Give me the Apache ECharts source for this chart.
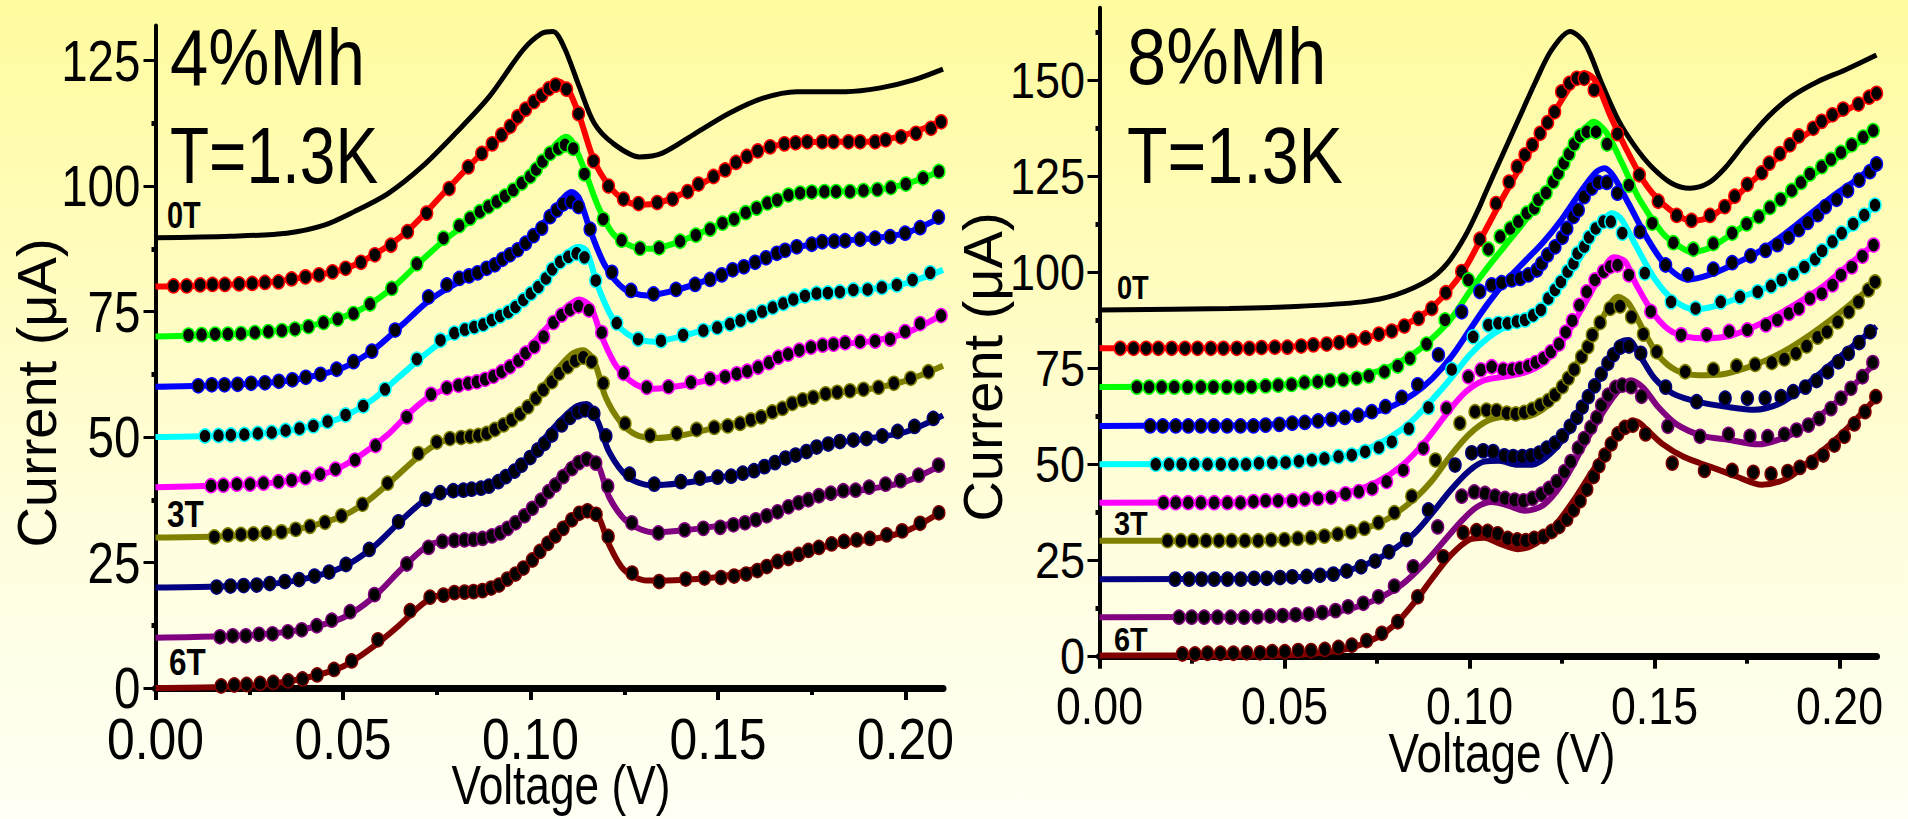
<!DOCTYPE html>
<html>
<head>
<meta charset="utf-8">
<title>Current vs Voltage, 4% and 8% Mn</title>
<script src="https://cdn.jsdelivr.net/npm/echarts@6/dist/echarts.min.js"></script>
<style>
  html, body { margin: 0; padding: 0; }
  #chart {
    width: 1908px;
    height: 819px;
    background: linear-gradient(to bottom, #fffb9e 0%, #fffcc0 35%, #fffede 65%, #fffff4 100%);
  }
</style>
</head>
<body>
<div id="chart"></div>
<script>
// ---- shared ----
const curveColors = ['#ff0000', '#00ff00', '#0000ff', '#00ffff', '#ff00ff', '#808000', '#000080', '#800080', '#800000'];
const xTicks = [0, 0.05, 0.10, 0.15, 0.20];
const xMinorTicks = [0.025, 0.075, 0.125, 0.175];
const yTicksLeft = [0, 25, 50, 75, 100, 125];
const yMinorLeft = [12.5, 37.5, 62.5, 87.5, 112.5];
const yTicksRight = [0, 25, 50, 75, 100, 125, 150];
const yMinorRight = [12.5, 37.5, 62.5, 87.5, 112.5, 137.5, 162.5];

// ---- 4% Mn panel: fitted curves [V, uA] ----
const fit4_90 = [[0,89.7],[0.02,90.0],[0.035,90.6],[0.045,92.2],[0.053,94.9],[0.062,98.5],[0.071,103.8],[0.080,110.5],[0.089,117.8],[0.098,127.1],[0.103,130.4],[0.106,130.8],[0.109,127.6],[0.113,119.8],[0.117,112.5],[0.122,108.5],[0.129,105.8],[0.135,106.5],[0.144,110.5],[0.153,114.5],[0.162,117.5],[0.171,118.8],[0.184,118.8],[0.193,119.5],[0.202,121.1],[0.21,123.3]];
const fit4_80 = [[0,80],[0.015,80.2],[0.03,80.8],[0.04,81.9],[0.05,83.4],[0.058,86.2],[0.067,90.9],[0.078,99.5],[0.087,106.5],[0.095,111.5],[0.101,116.8],[0.105,119.8],[0.1075,120.8],[0.110,119.3],[0.113,114],[0.117,105],[0.121,100],[0.125,97.2],[0.129,96.3],[0.134,96.6],[0.142,99],[0.152,103.2],[0.161,107],[0.17,108.6],[0.18,108.8],[0.19,108.8],[0.198,109.8],[0.205,111.5],[0.21,113.2]];
const fit4_70 = [[0,70],[0.01,70.2],[0.03,71],[0.045,72.8],[0.055,75.5],[0.063,79.6],[0.07,84.5],[0.077,89.2],[0.083,92.5],[0.09,96.3],[0.097,100.3],[0.103,104.8],[0.107,108.5],[0.1095,109.8],[0.111,109],[0.114,104],[0.118,96],[0.122,90.5],[0.127,88],[0.132,87.5],[0.14,89],[0.15,92.2],[0.16,95.5],[0.17,98.3],[0.18,98.9],[0.19,99.1],[0.2,100.4],[0.21,103.2]];
const fit4_60 = [[0,60],[0.012,60.2],[0.03,60.8],[0.04,61.8],[0.05,63.8],[0.058,67.3],[0.066,72.5],[0.073,77.2],[0.08,80.5],[0.088,83.3],[0.095,86.5],[0.1,89.6],[0.105,94],[0.109,97.8],[0.111,98.8],[0.113,97.5],[0.116,91],[0.12,84],[0.125,79.5],[0.131,78.2],[0.139,79.3],[0.15,82],[0.16,84.8],[0.17,87.6],[0.18,88.9],[0.19,89.5],[0.2,90.6],[0.21,94]];
const fit4_50 = [[0,50],[0.013,50.2],[0.03,50.8],[0.042,52.2],[0.05,54],[0.058,57.5],[0.065,62],[0.072,66.5],[0.078,69.8],[0.085,72],[0.092,74.2],[0.098,77],[0.104,81.8],[0.109,86.2],[0.113,87.9],[0.115,87],[0.118,80],[0.122,73.5],[0.127,70],[0.133,69],[0.14,70],[0.15,72.2],[0.16,74.4],[0.17,76.8],[0.18,78.8],[0.19,79.4],[0.2,80.6],[0.21,83.3]];
const fit4_40 = [[0,40],[0.015,40.3],[0.03,40.8],[0.04,41.8],[0.048,43.5],[0.055,46.5],[0.062,50.5],[0.068,55],[0.073,58],[0.078,59.7],[0.085,61],[0.092,63],[0.098,66.5],[0.104,71.5],[0.109,75.5],[0.113,77.4],[0.116,76],[0.119,70],[0.123,64],[0.128,60.5],[0.133,59.6],[0.14,60.2],[0.15,61.8],[0.16,63.6],[0.17,66.8],[0.18,68.4],[0.19,69],[0.2,70.7],[0.21,74.5]];
const fit4_30 = [[0,30],[0.016,30.2],[0.03,30.8],[0.04,32],[0.05,34.3],[0.057,37.5],[0.064,42],[0.07,46],[0.076,49],[0.082,50],[0.088,50.7],[0.094,53],[0.1,57],[0.106,62.5],[0.111,66.5],[0.114,67.3],[0.117,65],[0.12,58],[0.124,53],[0.128,50.5],[0.133,49.8],[0.14,50.3],[0.15,52],[0.16,53.8],[0.17,56.9],[0.18,58.6],[0.19,59.5],[0.2,61.2],[0.21,64.2]];
const fit4_20 = [[0,20],[0.016,20.2],[0.03,20.7],[0.04,21.8],[0.05,24.1],[0.058,28],[0.065,33],[0.072,37.5],[0.078,39.2],[0.085,39.9],[0.09,40.6],[0.096,43.2],[0.102,48.2],[0.107,52.5],[0.112,56],[0.115,56.6],[0.118,53],[0.121,47],[0.126,42],[0.132,40.4],[0.14,40.8],[0.15,41.9],[0.16,43.4],[0.17,46.2],[0.18,48.6],[0.19,49.7],[0.2,51],[0.21,54.3]];
const fit4_10 = [[0,10],[0.017,10.3],[0.03,10.8],[0.04,11.8],[0.05,14],[0.058,18],[0.066,24],[0.073,28.5],[0.08,29.6],[0.087,30.2],[0.093,31.5],[0.1,35.3],[0.106,40.5],[0.111,44.5],[0.115,46.3],[0.118,44.5],[0.121,38],[0.126,33],[0.133,31],[0.142,31.5],[0.15,32.3],[0.16,33.6],[0.17,36.2],[0.18,38.6],[0.19,39.6],[0.2,41.1],[0.21,44.6]];
const fit4_0 = [[0,0],[0.017,0.2],[0.03,0.8],[0.04,2],[0.05,4.3],[0.058,8.2],[0.065,12.5],[0.072,17.2],[0.078,19],[0.085,19.4],[0.092,20.8],[0.1,24.8],[0.106,30],[0.111,34],[0.115,36],[0.118,34.3],[0.121,28.5],[0.125,23.5],[0.131,21.4],[0.14,21.5],[0.15,22.1],[0.16,23.8],[0.17,26.6],[0.18,28.4],[0.19,29.5],[0.2,31.2],[0.21,35.3]];

// ---- 4% Mn panel: measured points [V, uA] ----
const dots4_80 = [[0.0048,80.1],[0.0083,80.1],[0.0119,80.3],[0.0152,80.4],[0.0185,80.4],[0.0223,80.5],[0.0258,80.6],[0.0292,80.8],[0.0328,80.9],[0.0363,81.5],[0.0400,81.9],[0.0436,82.3],[0.0472,82.9],[0.0507,83.6],[0.0548,84.8],[0.0585,86.3],[0.0628,88.2],[0.0672,90.9],[0.0723,94.6],[0.0783,99.5],[0.0834,103.8],[0.0870,106.5],[0.0898,108.4],[0.0923,110.2],[0.0946,111.9],[0.0966,113.8],[0.0987,115.3],[0.1009,116.8],[0.1030,118.1],[0.1049,119.4],[0.1067,120.1],[0.1096,119.3],[0.1128,114.4],[0.1168,105.0],[0.1208,100.0],[0.1248,97.4],[0.1288,96.5],[0.1338,96.7],[0.1379,97.4],[0.1419,98.9],[0.1448,100.4],[0.1488,101.9],[0.1519,103.2],[0.1548,104.7],[0.1577,105.9],[0.1606,107.0],[0.1639,107.8],[0.1677,108.4],[0.1707,108.6],[0.1738,108.8],[0.1778,108.8],[0.1808,108.8],[0.1848,108.8],[0.1879,108.8],[0.1919,108.8],[0.1947,109.2],[0.1988,109.8],[0.2028,110.5],[0.2068,111.5],[0.2095,112.8]];
const dots4_70 = [[0.0088,70.3],[0.0123,70.4],[0.0159,70.5],[0.0193,70.5],[0.0228,70.6],[0.0265,70.8],[0.0301,71.0],[0.0337,71.2],[0.0372,71.5],[0.0408,72.0],[0.0448,72.8],[0.0486,73.5],[0.0528,74.6],[0.0572,76.5],[0.0630,79.6],[0.0697,84.5],[0.0768,89.6],[0.0810,92.1],[0.0839,93.6],[0.0865,94.9],[0.0888,95.9],[0.0910,96.9],[0.0932,98.0],[0.0954,99.2],[0.0977,100.6],[0.0999,101.9],[0.1015,103.3],[0.1032,104.9],[0.1052,106.5],[0.1074,107.5],[0.1092,108.2],[0.1114,107.5],[0.1144,102.4],[0.1194,93.4],[0.1243,89.2],[0.1292,87.6],[0.1343,87.7],[0.1399,89.0],[0.1441,90.2],[0.1479,91.4],[0.1512,92.6],[0.1543,93.4],[0.1574,94.7],[0.1603,95.6],[0.1632,96.6],[0.1658,97.2],[0.1688,98.2],[0.1719,98.6],[0.1750,98.8],[0.1784,98.9],[0.1815,98.9],[0.1852,98.9],[0.1888,99.1],[0.1925,99.3],[0.1961,99.7],[0.2001,100.4],[0.2047,101.6],[0.2089,102.9]];
const dots4_60 = [[0.0114,60.2],[0.0150,60.4],[0.0184,60.4],[0.0219,60.5],[0.0255,60.7],[0.0292,60.8],[0.0329,61.1],[0.0365,61.4],[0.0401,61.9],[0.0440,62.5],[0.0483,63.5],[0.0528,65.0],[0.0577,67.1],[0.0639,71.3],[0.0728,77.9],[0.0777,80.3],[0.0810,81.6],[0.0836,82.1],[0.0859,82.7],[0.0883,83.6],[0.0905,84.3],[0.0925,85.4],[0.0945,86.3],[0.0966,87.3],[0.0987,88.6],[0.1008,90.1],[0.1030,91.6],[0.1052,93.9],[0.1070,95.2],[0.1087,96.4],[0.1108,96.9],[0.1128,95.9],[0.1159,91.4],[0.1217,82.8],[0.1268,79.2],[0.1328,78.5],[0.1388,79.4],[0.1439,80.4],[0.1479,81.4],[0.1510,82.3],[0.1539,83.3],[0.1569,83.9],[0.1599,84.8],[0.1628,85.7],[0.1657,86.6],[0.1679,87.2],[0.1710,87.9],[0.1750,88.4],[0.1778,88.9],[0.1810,89.0],[0.1839,89.1],[0.1879,89.4],[0.1919,89.6],[0.1959,89.9],[0.1999,90.6],[0.2039,91.7],[0.2088,93.8]];
const dots4_50 = [[0.0132,50.2],[0.0168,50.3],[0.0201,50.4],[0.0237,50.5],[0.0273,50.7],[0.0310,50.9],[0.0347,51.3],[0.0384,51.7],[0.0421,52.2],[0.0459,53.1],[0.0507,54.4],[0.0554,56.2],[0.0612,59.5],[0.0697,65.5],[0.0760,69.3],[0.0797,70.7],[0.0825,71.4],[0.0850,71.9],[0.0874,72.4],[0.0897,73.3],[0.0919,74.1],[0.0941,74.9],[0.0960,75.9],[0.0981,77.3],[0.1001,78.6],[0.1021,79.9],[0.1041,81.6],[0.1058,83.4],[0.1079,84.9],[0.1101,85.9],[0.1123,86.6],[0.1144,85.8],[0.1174,81.2],[0.1230,72.7],[0.1287,69.5],[0.1348,69.2],[0.1407,70.3],[0.1461,71.2],[0.1498,71.8],[0.1532,72.5],[0.1560,73.2],[0.1590,74.1],[0.1618,75.0],[0.1646,75.8],[0.1674,76.6],[0.1701,77.4],[0.1732,78.1],[0.1763,78.6],[0.1793,78.7],[0.1825,78.9],[0.1861,79.3],[0.1899,79.4],[0.1937,79.8],[0.1977,80.3],[0.2019,81.3],[0.2066,82.7]];
const dots4_40 = [[0.0148,40.3],[0.0181,40.4],[0.0217,40.6],[0.0252,40.6],[0.0288,40.8],[0.0328,41.1],[0.0363,41.4],[0.0400,41.9],[0.0439,42.6],[0.0480,43.6],[0.0532,45.4],[0.0587,48.3],[0.0670,54.0],[0.0735,58.5],[0.0777,59.8],[0.0808,60.3],[0.0834,60.7],[0.0857,61.0],[0.0879,61.5],[0.0901,62.1],[0.0923,63.0],[0.0945,64.0],[0.0968,65.2],[0.0987,66.7],[0.1010,68.0],[0.1035,70.0],[0.1061,72.8],[0.1083,74.3],[0.1105,75.4],[0.1128,76.1],[0.1156,75.3],[0.1190,70.8],[0.1248,62.7],[0.1310,59.9],[0.1368,60.0],[0.1428,60.9],[0.1479,61.6],[0.1519,62.0],[0.1550,62.6],[0.1578,63.1],[0.1607,63.9],[0.1636,64.8],[0.1661,65.9],[0.1687,66.5],[0.1717,67.3],[0.1748,67.9],[0.1779,68.3],[0.1808,68.5],[0.1839,68.8],[0.1879,69.0],[0.1919,69.1],[0.1959,69.5],[0.1999,71.0],[0.2039,72.6],[0.2095,74.2]];
const dots4_30 = [[0.0157,30.1],[0.0193,30.5],[0.0228,30.6],[0.0261,30.7],[0.0296,30.9],[0.0336,31.1],[0.0374,31.6],[0.0412,32.2],[0.0452,33.0],[0.0496,34.3],[0.0552,36.6],[0.0619,40.8],[0.0701,46.7],[0.0750,49.0],[0.0785,49.7],[0.0815,49.9],[0.0839,50.1],[0.0861,50.3],[0.0883,50.7],[0.0905,51.5],[0.0928,52.4],[0.0950,53.4],[0.0972,54.6],[0.0993,56.0],[0.1014,57.7],[0.1034,59.4],[0.1057,61.0],[0.1076,62.7],[0.1099,64.0],[0.1119,65.2],[0.1141,65.9],[0.1163,65.0],[0.1194,60.7],[0.1252,52.7],[0.1319,50.3],[0.1390,50.7],[0.1443,51.5],[0.1490,51.9],[0.1526,52.2],[0.1559,52.7],[0.1588,53.4],[0.1615,54.0],[0.1645,55.0],[0.1672,55.7],[0.1698,56.7],[0.1726,57.4],[0.1754,57.9],[0.1787,58.6],[0.1818,58.9],[0.1852,59.2],[0.1888,59.5],[0.1928,59.9],[0.1969,60.7],[0.2014,61.7],[0.2061,63.0]];
const dots4_20 = [[0.0163,20.1],[0.0200,20.3],[0.0235,20.4],[0.0270,20.5],[0.0305,20.8],[0.0345,21.2],[0.0383,21.6],[0.0424,22.3],[0.0463,23.1],[0.0508,24.6],[0.0570,27.6],[0.0648,33.1],[0.0721,37.6],[0.0759,38.9],[0.0794,39.3],[0.0821,39.4],[0.0843,39.6],[0.0868,39.8],[0.0889,40.2],[0.0914,41.1],[0.0934,42.1],[0.0957,43.2],[0.0976,44.4],[0.0999,45.9],[0.1019,47.4],[0.1037,48.7],[0.1057,50.4],[0.1083,52.4],[0.1105,53.9],[0.1126,55.0],[0.1145,55.4],[0.1169,54.7],[0.1201,50.2],[0.1264,42.6],[0.1330,40.6],[0.1401,41.1],[0.1452,41.8],[0.1499,42.0],[0.1535,42.2],[0.1566,42.8],[0.1596,43.3],[0.1624,44.1],[0.1652,44.9],[0.1680,45.8],[0.1707,46.4],[0.1736,47.1],[0.1763,48.0],[0.1794,48.6],[0.1825,49.1],[0.1861,49.4],[0.1896,49.7],[0.1938,50.2],[0.1979,51.1],[0.2024,52.1],[0.2074,53.7]];
const dots4_10 = [[0.0172,10.2],[0.0206,10.4],[0.0241,10.4],[0.0276,10.7],[0.0312,10.8],[0.0353,11.2],[0.0390,11.6],[0.0430,12.4],[0.0470,13.5],[0.0519,15.2],[0.0584,18.6],[0.0670,24.7],[0.0728,28.0],[0.0765,29.2],[0.0797,29.4],[0.0824,29.5],[0.0848,29.6],[0.0872,29.8],[0.0897,30.3],[0.0919,30.9],[0.0939,31.8],[0.0960,32.9],[0.0984,34.3],[0.1005,35.8],[0.1028,37.4],[0.1048,39.1],[0.1066,40.4],[0.1087,42.1],[0.1110,43.7],[0.1129,44.9],[0.1150,45.6],[0.1174,44.8],[0.1206,40.2],[0.1270,32.9],[0.1341,30.9],[0.1411,31.5],[0.1461,31.8],[0.1506,32.0],[0.1541,32.5],[0.1572,32.9],[0.1601,33.5],[0.1630,34.3],[0.1659,35.1],[0.1688,36.1],[0.1715,36.9],[0.1741,37.5],[0.1769,38.3],[0.1801,38.8],[0.1834,39.3],[0.1867,39.4],[0.1903,40.0],[0.1947,40.6],[0.1987,41.3],[0.2035,42.4],[0.2088,44.4]];
const dots4_0 = [[0.0175,0.4],[0.0210,0.6],[0.0243,0.7],[0.0279,0.9],[0.0314,1.1],[0.0354,1.4],[0.0392,1.8],[0.0431,2.6],[0.0476,3.7],[0.0523,5.4],[0.0593,9.6],[0.0679,15.4],[0.0732,18.1],[0.0768,18.5],[0.0797,19.0],[0.0824,19.1],[0.0848,19.2],[0.0872,19.4],[0.0895,19.9],[0.0916,20.5],[0.0938,21.7],[0.0960,22.7],[0.0981,23.9],[0.1005,25.5],[0.1025,27.2],[0.1046,28.8],[0.1066,30.3],[0.1087,31.8],[0.1110,33.5],[0.1130,34.8],[0.1152,35.3],[0.1175,34.6],[0.1207,30.2],[0.1271,22.9],[0.1343,21.2],[0.1414,21.7],[0.1464,21.9],[0.1508,22.0],[0.1543,22.3],[0.1575,22.7],[0.1605,23.4],[0.1630,24.2],[0.1659,25.2],[0.1688,25.8],[0.1715,26.6],[0.1741,27.4],[0.1769,28.0],[0.1803,28.7],[0.1836,29.2],[0.1870,29.5],[0.1905,29.8],[0.1950,30.5],[0.1991,31.3],[0.2039,32.8],[0.2089,34.9]];

// ---- 8% Mn panel: fitted curves [V, uA] ----
const fit8_90 = [[0,90.3],[0.035,90.7],[0.053,91.2],[0.071,92.4],[0.080,94.2],[0.089,98.1],[0.094,102.4],[0.0988,109.5],[0.1024,116.5],[0.1042,120.5],[0.1087,130.2],[0.1132,139.8],[0.1177,149.4],[0.1222,158.0],[0.1272,162.8],[0.1312,159.7],[0.1357,149.4],[0.1402,139.8],[0.1447,132.9],[0.1492,127.6],[0.1546,123.3],[0.1596,122.0],[0.1645,123.3],[0.1690,127.2],[0.1744,133.7],[0.1808,140.7],[0.1871,145.9],[0.1942,149.8],[0.2015,152.8],[0.21,156.7]];
const fit8_80 = [[0,80.3],[0.04,80.4],[0.05,80.7],[0.06,81.2],[0.068,82.2],[0.075,83.8],[0.082,86.2],[0.088,89.5],[0.094,95],[0.099,101.5],[0.104,110.5],[0.109,119.5],[0.114,128],[0.119,136],[0.124,143.5],[0.128,149.5],[0.131,152],[0.134,150],[0.138,141],[0.143,131],[0.148,122.5],[0.154,116.5],[0.16,113.5],[0.165,114.5],[0.17,118],[0.175,122.5],[0.18,127],[0.188,134],[0.195,138.5],[0.2,141.3],[0.21,146.7]];
const fit8_70 = [[0,70.2],[0.04,70.4],[0.05,70.8],[0.06,71.6],[0.07,73],[0.078,75.3],[0.085,79],[0.09,83],[0.095,88],[0.1,95],[0.105,101.5],[0.11,107.5],[0.115,113.5],[0.12,120.5],[0.125,128],[0.13,136],[0.1335,139.3],[0.137,136.5],[0.141,129],[0.146,119],[0.152,110.5],[0.155,108],[0.16,105.4],[0.165,106.5],[0.17,109.5],[0.175,112.8],[0.18,116],[0.188,122],[0.195,127],[0.2,130.3],[0.21,137.2]];
const fit8_60 = [[0,60.1],[0.04,60.3],[0.05,60.7],[0.06,61.5],[0.07,62.8],[0.078,64.8],[0.085,68.5],[0.09,72.5],[0.095,78],[0.1,85],[0.105,92],[0.11,98],[0.115,103],[0.12,108],[0.125,114],[0.13,121],[0.134,126],[0.1365,127.2],[0.139,125],[0.143,118],[0.148,109],[0.153,102],[0.159,98.2],[0.165,99.5],[0.171,102],[0.177,104.8],[0.182,107.8],[0.188,112.2],[0.195,117.5],[0.2,121.2],[0.205,124.5],[0.21,128.8]];
const fit8_50 = [[0,50.1],[0.045,50.3],[0.055,50.8],[0.065,52],[0.072,54],[0.078,56.8],[0.084,61],[0.09,67],[0.095,72.5],[0.1,78.5],[0.105,83],[0.11,86],[0.115,88],[0.12,91.5],[0.125,97],[0.13,104],[0.135,112],[0.1385,115.5],[0.141,114],[0.145,107],[0.15,98.5],[0.155,93],[0.161,90.4],[0.167,91.5],[0.173,93.5],[0.18,96],[0.186,99],[0.193,104],[0.2,109.5],[0.205,113],[0.21,118.2]];
const fit8_40 = [[0,40.1],[0.04,40.3],[0.05,40.7],[0.06,41.5],[0.068,43],[0.075,45.5],[0.082,50],[0.088,56],[0.094,63.5],[0.099,69],[0.104,72],[0.11,73],[0.115,74],[0.12,76.5],[0.125,82],[0.13,90],[0.135,98.5],[0.139,104],[0.142,103],[0.145,97],[0.15,89],[0.155,84.5],[0.1635,82.9],[0.17,83.5],[0.177,86],[0.185,90],[0.195,96],[0.2,100],[0.21,108]];
const fit8_30 = [[0,30.2],[0.045,30.3],[0.055,30.8],[0.065,32],[0.072,33.5],[0.078,36],[0.085,41],[0.09,46],[0.095,52.5],[0.1,58],[0.105,61.5],[0.11,62.5],[0.115,62.5],[0.12,64.5],[0.125,70],[0.13,78],[0.135,86.5],[0.1402,93.7],[0.143,92],[0.147,85],[0.151,78.5],[0.156,74.5],[0.162,73.3],[0.168,73.5],[0.175,75.3],[0.182,78],[0.19,82.5],[0.2,89.5],[0.21,97.5]];
const fit8_20 = [[0,20.2],[0.045,20.3],[0.055,20.8],[0.065,22],[0.072,24],[0.078,27],[0.085,32],[0.09,37.5],[0.095,43.5],[0.1,48.5],[0.104,50.8],[0.108,51],[0.113,50],[0.117,50],[0.122,53],[0.127,59],[0.132,67],[0.137,76],[0.141,82],[0.143,82.5],[0.146,78.5],[0.15,72.5],[0.155,68.5],[0.162,66.3],[0.17,65],[0.177,64.3],[0.184,66],[0.19,70],[0.2,78],[0.21,86]];
const fit8_10 = [[0,10.3],[0.05,10.4],[0.06,11],[0.068,12.5],[0.075,15],[0.082,19],[0.088,24.5],[0.093,30],[0.098,35.5],[0.102,39],[0.106,40.3],[0.11,39.5],[0.115,38],[0.12,39.5],[0.125,45],[0.13,53.5],[0.135,62],[0.14,69],[0.1435,72],[0.147,70],[0.151,65],[0.156,60.5],[0.163,57.5],[0.17,56.5],[0.178,55.3],[0.185,57],[0.19,59.5],[0.2,67],[0.21,77]];
const fit8_0 = [[0,0.3],[0.05,0.4],[0.06,1],[0.068,2.3],[0.075,5],[0.08,8.5],[0.085,14],[0.09,20.5],[0.095,26.5],[0.1,30.5],[0.104,31],[0.108,29.5],[0.113,28],[0.118,29.5],[0.123,34],[0.128,40.5],[0.133,48],[0.138,55],[0.142,60],[0.145,61.3],[0.148,59],[0.152,55.5],[0.158,52],[0.165,49.5],[0.172,47],[0.179,44.8],[0.186,46.5],[0.192,51],[0.2,57.5],[0.21,67.5]];

// ---- 8% Mn panel: measured points [V, uA] ----
const dots8_80 = [[0.0056,80.3],[0.0092,80.3],[0.0126,80.3],[0.0159,80.3],[0.0195,80.3],[0.0231,80.3],[0.0265,80.3],[0.0301,80.3],[0.0335,80.3],[0.0371,80.3],[0.0405,80.3],[0.0438,80.5],[0.0474,80.6],[0.0508,80.6],[0.0545,80.9],[0.0578,81.2],[0.0614,81.4],[0.0648,81.8],[0.0682,82.3],[0.0719,83.0],[0.0755,84.0],[0.0790,84.8],[0.0824,86.1],[0.0862,88.1],[0.0898,90.7],[0.0936,94.8],[0.0979,100.3],[0.1028,108.7],[0.1072,118.0],[0.1107,123.6],[0.1129,127.6],[0.1150,130.7],[0.1170,133.3],[0.1191,136.3],[0.1211,139.1],[0.1230,141.9],[0.1249,147.1],[0.1270,149.3],[0.1290,150.6],[0.1310,150.6],[0.1337,147.6],[0.1400,136.2],[0.1459,125.5],[0.1510,118.6],[0.1560,114.9],[0.1600,113.6],[0.1650,114.9],[0.1690,117.2],[0.1717,119.9],[0.1751,123.0],[0.1790,126.0],[0.1810,128.5],[0.1839,131.0],[0.1866,133.3],[0.1890,135.6],[0.1929,137.6],[0.1952,139.4],[0.1981,141.1],[0.2010,142.6],[0.2051,143.9],[0.2080,145.7],[0.2100,146.7]];
const dots8_70 = [[0.0101,70.2],[0.0134,70.2],[0.0168,70.2],[0.0202,70.2],[0.0238,70.2],[0.0274,70.2],[0.0308,70.2],[0.0344,70.2],[0.0378,70.2],[0.0411,70.3],[0.0449,70.5],[0.0483,70.7],[0.0519,70.9],[0.0554,71.4],[0.0590,71.6],[0.0623,71.9],[0.0659,72.1],[0.0695,72.5],[0.0728,73.1],[0.0770,74.2],[0.0806,75.7],[0.0839,77.7],[0.0884,81.4],[0.0934,87.7],[0.0997,98.1],[0.1051,106.1],[0.1083,109.4],[0.1110,111.5],[0.1132,113.3],[0.1155,115.5],[0.1175,116.8],[0.1186,119.0],[0.1207,120.8],[0.1226,123.7],[0.1240,125.9],[0.1255,128.5],[0.1269,130.9],[0.1283,133.5],[0.1299,135.6],[0.1317,136.7],[0.1342,136.7],[0.1372,133.5],[0.1431,122.8],[0.1494,112.9],[0.1551,107.8],[0.1605,106.1],[0.1659,107.6],[0.1710,110.3],[0.1749,112.7],[0.1782,114.6],[0.1812,117.0],[0.1841,119.1],[0.1871,121.4],[0.1896,123.5],[0.1920,125.7],[0.1952,127.6],[0.1977,129.5],[0.2004,131.3],[0.2033,133.3],[0.2064,135.3],[0.2091,137.0]];
const dots8_60 = [[0.0137,60.1],[0.0171,60.1],[0.0206,60.1],[0.0240,60.1],[0.0274,60.1],[0.0309,60.1],[0.0345,60.1],[0.0381,60.1],[0.0416,60.1],[0.0449,60.3],[0.0486,60.5],[0.0521,60.8],[0.0555,61.0],[0.0591,61.4],[0.0627,61.8],[0.0663,62.3],[0.0699,62.9],[0.0736,63.8],[0.0773,65.1],[0.0817,67.5],[0.0860,70.8],[0.0916,78.6],[0.0979,89.8],[0.1028,95.1],[0.1060,96.8],[0.1087,97.4],[0.1114,98.1],[0.1137,98.5],[0.1159,99.4],[0.1182,100.7],[0.1195,102.4],[0.1211,104.6],[0.1231,106.7],[0.1251,109.2],[0.1263,111.5],[0.1281,114.6],[0.1294,116.3],[0.1310,119.8],[0.1330,122.0],[0.1348,123.5],[0.1371,123.5],[0.1400,120.7],[0.1461,110.7],[0.1530,102.0],[0.1590,99.4],[0.1659,100.9],[0.1710,102.6],[0.1760,104.4],[0.1800,105.8],[0.1832,107.3],[0.1862,109.2],[0.1890,111.2],[0.1914,113.1],[0.1941,115.1],[0.1962,117.2],[0.1992,119.1],[0.2022,121.4],[0.2053,124.1],[0.2082,126.3],[0.2100,128.3]];
const dots8_50 = [[0.0152,50.1],[0.0188,50.1],[0.0222,50.1],[0.0256,50.1],[0.0292,50.1],[0.0328,50.1],[0.0362,50.1],[0.0396,50.1],[0.0431,50.4],[0.0467,50.5],[0.0503,50.6],[0.0539,50.9],[0.0574,51.2],[0.0608,51.6],[0.0646,52.1],[0.0682,52.5],[0.0718,53.4],[0.0755,54.5],[0.0790,56.0],[0.0836,59.4],[0.0889,64.9],[0.0952,74.8],[0.1010,83.3],[0.1051,86.4],[0.1078,86.8],[0.1103,86.8],[0.1128,87.3],[0.1150,87.7],[0.1172,88.9],[0.1193,90.3],[0.1213,93.3],[0.1231,95.5],[0.1247,97.6],[0.1265,100.3],[0.1281,102.4],[0.1292,105.0],[0.1310,106.8],[0.1323,109.2],[0.1341,111.5],[0.1362,113.3],[0.1382,113.3],[0.1413,110.3],[0.1474,99.9],[0.1545,92.4],[0.1611,90.7],[0.1679,92.4],[0.1731,93.7],[0.1779,95.0],[0.1815,96.5],[0.1844,98.1],[0.1875,99.6],[0.1905,101.5],[0.1934,103.5],[0.1953,105.7],[0.1981,108.1],[0.2006,110.3],[0.2037,112.7],[0.2067,115.0],[0.2096,117.6]];
const dots8_40 = [[0.0173,40.1],[0.0206,40.1],[0.0240,40.1],[0.0274,40.1],[0.0310,40.1],[0.0346,40.1],[0.0381,40.1],[0.0416,40.4],[0.0449,40.6],[0.0483,40.6],[0.0521,40.6],[0.0555,41.0],[0.0591,41.2],[0.0626,41.5],[0.0665,42.4],[0.0701,43.0],[0.0737,43.8],[0.0776,45.6],[0.0821,48.6],[0.0875,54.3],[0.0938,64.7],[0.0997,72.9],[0.1031,74.7],[0.1060,75.5],[0.1091,74.8],[0.1116,74.8],[0.1136,75.1],[0.1159,75.7],[0.1179,76.6],[0.1200,77.7],[0.1220,79.4],[0.1242,81.4],[0.1260,84.5],[0.1278,87.5],[0.1297,91.5],[0.1317,95.0],[0.1339,98.1],[0.1362,100.3],[0.1380,101.6],[0.1400,102.0],[0.1431,99.4],[0.1490,89.9],[0.1572,83.8],[0.1641,83.8],[0.1702,84.7],[0.1751,85.1],[0.1801,86.4],[0.1832,87.7],[0.1863,89.4],[0.1890,90.7],[0.1920,93.3],[0.1952,94.6],[0.1981,96.8],[0.2004,99.4],[0.2033,101.5],[0.2062,104.3],[0.2092,107.2]];
const dots8_30 = [[0.0184,30.2],[0.0220,30.2],[0.0253,30.2],[0.0288,30.2],[0.0323,30.2],[0.0357,30.2],[0.0393,30.2],[0.0429,30.2],[0.0464,30.4],[0.0500,30.5],[0.0536,30.8],[0.0572,31.0],[0.0608,31.4],[0.0644,31.9],[0.0680,32.5],[0.0716,33.4],[0.0754,34.9],[0.0797,37.5],[0.0844,41.8],[0.0908,51.2],[0.0974,60.8],[0.1015,63.8],[0.1046,64.2],[0.1073,64.1],[0.1101,63.4],[0.1125,63.2],[0.1148,63.6],[0.1170,64.4],[0.1191,65.5],[0.1213,66.7],[0.1231,68.2],[0.1251,70.3],[0.1267,72.5],[0.1283,74.8],[0.1303,78.1],[0.1320,80.7],[0.1332,83.8],[0.1353,87.0],[0.1380,90.7],[0.1407,91.3],[0.1438,88.5],[0.1470,84.0],[0.1506,79.4],[0.1583,74.2],[0.1659,74.8],[0.1722,75.7],[0.1772,76.1],[0.1817,76.6],[0.1851,77.5],[0.1882,79.0],[0.1911,80.9],[0.1941,83.2],[0.1966,84.6],[0.1995,87.2],[0.2025,89.8],[0.2051,92.4],[0.2078,95.5],[0.2096,97.6]];
const dots8_20 = [[0.0204,20.2],[0.0242,20.2],[0.0276,20.2],[0.0310,20.2],[0.0346,20.2],[0.0382,20.2],[0.0418,20.4],[0.0452,20.4],[0.0488,20.6],[0.0521,20.8],[0.0560,20.9],[0.0596,21.2],[0.0632,21.5],[0.0668,22.3],[0.0707,23.4],[0.0745,24.9],[0.0782,27.3],[0.0830,30.5],[0.0889,38.2],[0.0961,49.9],[0.1006,53.1],[0.1037,53.6],[0.1064,53.4],[0.1094,52.3],[0.1118,52.1],[0.1143,52.1],[0.1166,52.3],[0.1188,53.0],[0.1209,54.3],[0.1231,55.6],[0.1251,57.5],[0.1272,60.0],[0.1290,62.3],[0.1305,65.0],[0.1321,67.7],[0.1338,70.5],[0.1356,73.6],[0.1374,76.4],[0.1389,78.6],[0.1407,80.6],[0.1431,80.9],[0.1463,79.0],[0.1530,70.2],[0.1614,66.4],[0.1691,67.3],[0.1751,67.3],[0.1799,67.3],[0.1842,67.7],[0.1875,69.0],[0.1908,70.2],[0.1938,71.9],[0.1968,74.2],[0.1997,76.8],[0.2024,79.0],[0.2053,81.8],[0.2083,84.6]];
const dots8_10 = [[0.0215,10.3],[0.0249,10.3],[0.0283,10.3],[0.0319,10.3],[0.0355,10.3],[0.0391,10.3],[0.0427,10.4],[0.0461,10.6],[0.0495,10.7],[0.0530,10.9],[0.0566,11.1],[0.0602,11.5],[0.0638,12.0],[0.0672,13.0],[0.0713,13.9],[0.0754,15.6],[0.0797,18.4],[0.0848,23.4],[0.0914,33.8],[0.0979,41.8],[0.1013,42.9],[0.1042,42.5],[0.1069,41.8],[0.1096,41.2],[0.1122,40.8],[0.1146,40.6],[0.1170,41.2],[0.1194,42.3],[0.1215,43.8],[0.1236,45.6],[0.1257,48.2],[0.1274,50.8],[0.1294,54.3],[0.1310,56.8],[0.1328,59.7],[0.1344,62.3],[0.1357,65.5],[0.1375,68.1],[0.1395,70.1],[0.1413,70.7],[0.1437,70.3],[0.1465,67.8],[0.1536,60.0],[0.1623,57.4],[0.1700,57.9],[0.1758,57.4],[0.1806,57.3],[0.1851,57.9],[0.1884,59.0],[0.1916,60.3],[0.1945,62.0],[0.1977,64.6],[0.2004,67.3],[0.2031,69.9],[0.2062,72.9],[0.2090,76.6]];
const dots8_0 = [[0.0224,0.7],[0.0258,0.7],[0.0292,0.9],[0.0327,0.9],[0.0362,0.9],[0.0398,1.0],[0.0434,1.0],[0.0467,1.3],[0.0501,1.3],[0.0537,1.6],[0.0572,1.6],[0.0609,1.9],[0.0646,2.4],[0.0682,3.0],[0.0722,4.2],[0.0763,6.1],[0.0806,9.1],[0.0860,15.6],[0.0929,26.0],[0.0983,32.3],[0.1019,32.8],[0.1049,32.6],[0.1076,32.0],[0.1103,30.8],[0.1129,30.4],[0.1152,30.2],[0.1175,30.8],[0.1200,31.3],[0.1222,32.6],[0.1242,33.9],[0.1263,35.8],[0.1281,38.2],[0.1299,40.6],[0.1317,43.6],[0.1335,46.9],[0.1350,49.7],[0.1366,52.5],[0.1383,55.4],[0.1401,58.0],[0.1420,59.7],[0.1441,60.3],[0.1476,58.0],[0.1548,50.4],[0.1635,48.5],[0.1710,48.5],[0.1767,48.0],[0.1815,47.6],[0.1860,48.2],[0.1893,49.3],[0.1926,50.6],[0.1956,52.5],[0.1986,55.1],[0.2013,57.4],[0.2040,60.6],[0.2069,63.8],[0.2098,67.7]];

const fits4 = [fit4_80, fit4_70, fit4_60, fit4_50, fit4_40, fit4_30, fit4_20, fit4_10, fit4_0];
const dots4 = [dots4_80, dots4_70, dots4_60, dots4_50, dots4_40, dots4_30, dots4_20, dots4_10, dots4_0];
const fits8 = [fit8_80, fit8_70, fit8_60, fit8_50, fit8_40, fit8_30, fit8_20, fit8_10, fit8_0];
const dots8 = [dots8_80, dots8_70, dots8_60, dots8_50, dots8_40, dots8_30, dots8_20, dots8_10, dots8_0];

// no narrow face installed: plain face, squeezed sideways per text
const FONT = "'Liberation Sans', Arial, sans-serif";

const chart = echarts.init(document.getElementById('chart'), null, { renderer: 'svg' });

// one panel: black 0T fit, then each coloured fit with its points on top
function panelSeries(axis, blackFit, fits, dots) {
  const out = [{
    type: 'line', xAxisIndex: axis, yAxisIndex: axis, data: blackFit,
    showSymbol: false, smooth: 0.3, lineStyle: { color: '#000', width: 5 }, z: 3
  }];
  fits.forEach((f, i) => {
    out.push({
      type: 'line', xAxisIndex: axis, yAxisIndex: axis, data: f,
      showSymbol: false, smooth: 0.3, lineStyle: { color: curveColors[i], width: 6 }, z: 3
    });
    out.push({
      type: 'scatter', xAxisIndex: axis, yAxisIndex: axis, data: dots[i],
      symbol: 'circle', symbolSize: [12, 14],
      itemStyle: { color: '#000', borderColor: curveColors[i], borderWidth: 1.5, opacity: 1 }, z: 4
    });
  });
  return out;
}

function mainX(grid) {
  return {
    type: 'value', gridIndex: grid, position: 'bottom', min: 0, max: 0.21, interval: 0.05,
    axisLine: { show: true, onZero: false, lineStyle: { color: '#000', width: 7, cap: 'round' } },
    axisTick: { show: true, customValues: xTicks, length: 12, lineStyle: { color: '#000', width: 4 } },
    axisLabel: { show: false }, splitLine: { show: false }
  };
}
function minorX(grid) {
  return {
    type: 'value', gridIndex: grid, position: 'bottom', min: 0, max: 0.21,
    axisLine: { show: false, onZero: false },
    axisTick: { show: true, customValues: xMinorTicks, length: 7, lineStyle: { color: '#000', width: 4 } },
    axisLabel: { show: false }, splitLine: { show: false }
  };
}
function mainY(grid, max, ticks) {
  return {
    type: 'value', gridIndex: grid, position: 'left', min: 0, max: max, interval: 25,
    axisLine: { show: true, onZero: false, lineStyle: { color: '#000', width: 4, cap: 'round' } },
    axisTick: { show: true, customValues: ticks, length: 12, lineStyle: { color: '#000', width: 3 } },
    axisLabel: { show: false }, splitLine: { show: false }
  };
}
function minorY(grid, max, ticks) {
  return {
    type: 'value', gridIndex: grid, position: 'left', min: 0, max: max,
    axisLine: { show: false, onZero: false },
    axisTick: { show: true, customValues: ticks, length: 4, lineStyle: { color: '#000', width: 5 } },
    axisLabel: { show: false }, splitLine: { show: false }
  };
}

function label(text, x, y, size, sx, style, el) {
  return Object.assign({
    type: 'text', x: x, y: y, scaleX: sx, silent: true, z: 10,
    style: Object.assign({ text: text, fill: '#000', fontSize: size, fontFamily: FONT,
      align: 'left', verticalAlign: 'middle' }, style || {})
  }, el || {});
}

const option = {
  backgroundColor: 'transparent',
  animation: false,
  grid: [
    { left: 155.5, top: 25.4, width: 787.5, height: 662.6 },
    { left: 1099.5, top: 7.7, width: 777, height: 649 }
  ],
  xAxis: [mainX(0), minorX(0), mainX(1), minorX(1)],
  yAxis: [
    mainY(0, 132, yTicksLeft), minorY(0, 132, yMinorLeft),
    mainY(1, 169, yTicksRight), minorY(1, 169, yMinorRight)
  ],
  series: [].concat(
    panelSeries(0, fit4_90, fits4, dots4),
    panelSeries(2, fit8_90, fits8, dots8)
  )
};
chart.setOption(option);

// tick labels placed through the axes' own scales
const graphics = [
  label('4%Mh', 170, 57, 80, 0.86),
  label('T=1.3K', 170, 155, 80, 0.80),
  label('8%Mh', 1127, 56, 80, 0.88),
  label('T=1.3K', 1127, 155, 80, 0.83),
  label('0T', 167, 215, 37, 0.78, { fontWeight: 'bold' }),
  label('3T', 167, 514, 37, 0.85, { fontWeight: 'bold' }),
  label('6T', 169, 662, 37, 0.85, { fontWeight: 'bold' }),
  label('0T', 1117, 287, 34, 0.8, { fontWeight: 'bold' }),
  label('3T', 1114, 523, 34, 0.85, { fontWeight: 'bold' }),
  label('6T', 1114, 639, 34, 0.85, { fontWeight: 'bold' }),
  label('Voltage (V)', 561, 785, 56, 0.79, { align: 'center' }),
  label('Voltage (V)', 1502, 753, 56, 0.82, { align: 'center' }),
  label('Current (\u03bcA)', 36, 393, 56, 1, { align: 'center' }, { rotation: Math.PI / 2 }),
  label('Current (\u03bcA)', 982, 367, 56, 1, { align: 'center' }, { rotation: Math.PI / 2 })
];
[[0, yTicksLeft, 58, 0.82, 51, 15], [2, yTicksRight, 52, 0.9, 49, 14.5]].forEach(([ax, yt, fs, sx, dy, dx]) => {
  xTicks.forEach(v => {
    const p = chart.convertToPixel({ xAxisIndex: ax, yAxisIndex: ax }, [v, 0]);
    graphics.push(label(v.toFixed(2), p[0], p[1] + dy, fs, 0.86, { align: 'center' }));
  });
  yt.forEach(v => {
    const p = chart.convertToPixel({ xAxisIndex: ax, yAxisIndex: ax }, [0, v]);
    graphics.push(label(String(v), p[0] - dx, p[1], ax === 0 ? 58 : 50, sx, { align: 'right' }));
  });
});
chart.setOption({ graphic: graphics });
</script>
</body>
</html>
